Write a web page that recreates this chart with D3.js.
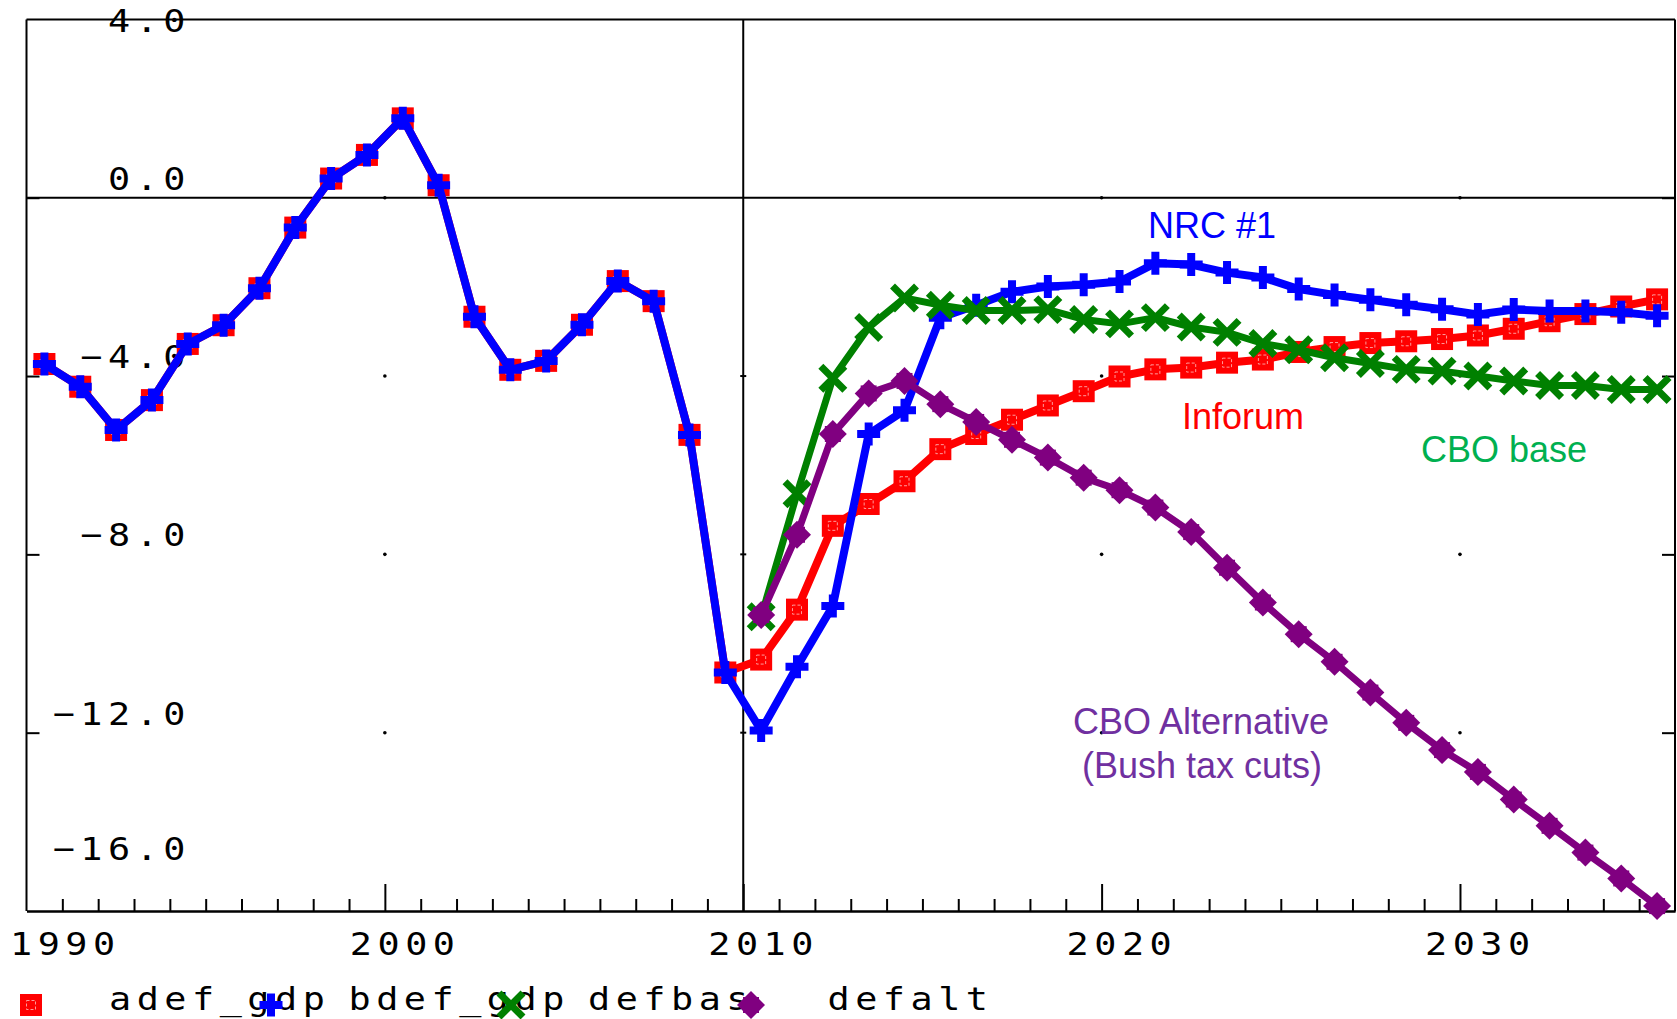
<!DOCTYPE html>
<html><head><meta charset="utf-8">
<script src="https://cdn.jsdelivr.net/npm/d3@7"></script>
<style>
html,body{margin:0;padding:0;background:#fff;}
svg{display:block;}
</style></head><body>
<svg id="chart" width="1677" height="1019"></svg>
<script>
// ---------------- data ----------------
const years = [1990,1991,1992,1993,1994,1995,1996,1997,1998,1999,
               2000,2001,2002,2003,2004,2005,2006,2007,2008,2009,
               2010,2011,2012,2013,2014,2015,2016,2017,2018,2019,
               2020,2021,2022,2023,2024,2025,2026,2027,2028,2029,
               2030,2031,2032,2033,2034,2035];
const projYears = [2010,2011,2012,2013,2014,2015,2016,2017,2018,2019,
                   2020,2021,2022,2023,2024,2025,2026,2027,2028,2029,
                   2030,2031,2032,2033,2034,2035];
// Inforum (red)
const adef_gdp = [-3.73,-4.24,-5.21,-4.54,-3.28,-2.86,-2.03,-0.67,0.43,0.96,
                  1.78,0.28,-2.67,-3.86,-3.66,-2.85,-1.87,-2.32,-5.32,-10.65,
                  -10.36,-9.24,-7.36,-6.87,-6.36,-5.64,-5.30,-4.98,-4.66,-4.34,
                  -4.01,-3.85,-3.81,-3.70,-3.63,-3.46,-3.35,-3.26,-3.22,-3.17,
                  -3.09,-2.94,-2.77,-2.61,-2.44,-2.28];
// NRC #1 (blue)
const bdef_gdp = [-3.73,-4.24,-5.21,-4.54,-3.28,-2.86,-2.03,-0.67,0.43,0.96,
                  1.78,0.28,-2.67,-3.86,-3.66,-2.85,-1.87,-2.32,-5.32,-10.65,
                  -11.95,-10.52,-9.16,-5.30,-4.77,-2.69,-2.41,-2.11,-1.99,-1.95,
                  -1.88,-1.47,-1.50,-1.68,-1.79,-2.05,-2.18,-2.29,-2.40,-2.50,
                  -2.62,-2.51,-2.54,-2.54,-2.57,-2.65];
// CBO base (green)
const defbas = [-9.40,-6.64,-4.05,-2.91,-2.25,-2.41,-2.53,-2.53,-2.51,-2.73,
                -2.83,-2.69,-2.90,-3.02,-3.27,-3.41,-3.59,-3.72,-3.85,-3.89,
                -4.00,-4.11,-4.21,-4.21,-4.30,-4.30];
// CBO alternative (purple)
const defalt = [-9.36,-7.56,-5.30,-4.39,-4.11,-4.63,-5.03,-5.43,-5.83,-6.28,
                -6.56,-6.95,-7.50,-8.30,-9.08,-9.79,-10.41,-11.10,-11.78,-12.39,
                -12.88,-13.50,-14.09,-14.69,-15.27,-15.89];

const yTicks = [4,0,-4,-8,-12,-16];
const yTickLabels = ["4.0","0.0","\u22124.0","\u22128.0","\u221212.0","\u221216.0"];
const xMajor = [1990,2000,2010,2020,2030];
const xTickLabels = ["1990","2000","2010","2020","2030"];
const legendNames = ["adef_gdp","bdef_gdp","defbas","defalt"];
const seriesColors = ["#ff0000","#0000ff","#008000","#800080"];
const annoNames = ["NRC #1","Inforum","CBO base","CBO Alternative","(Bush tax cuts)"];
const annoColors = ["#0000ff","#ff0000","#00b050","#7030a0","#7030a0"];

// ---------------- layout ----------------
const svg = d3.select("#chart");
const L = 26.5, R = 1675, T = 19.4, B = 911;
const x = d3.scaleLinear().domain([1990, 2036]).range([L, R]);
const y = d3.scaleLinear().domain([-16, 4]).range([B, T]);
const monoFont = "'DejaVu Sans Mono', monospace";
const sansFont = "'Liberation Sans', Arial, sans-serif";
const SX = 1.15;   // horizontal stretch of the mono labels

// frame
const frame = svg.append("g").attr("stroke", "#000").attr("stroke-width", 2).attr("fill", "none");
frame.append("line").attr("x1", L).attr("x2", R).attr("y1", y(4)).attr("y2", y(4));
frame.append("line").attr("x1", R).attr("x2", R).attr("y1", y(4)).attr("y2", y(-16));
frame.append("line").attr("x1", L).attr("x2", L).attr("y1", y(4)).attr("y2", y(-16));
frame.append("line").attr("x1", L).attr("x2", R).attr("y1", y(0)).attr("y2", y(0));
frame.append("line").attr("x1", x(2010)).attr("x2", x(2010)).attr("y1", y(4)).attr("y2", y(-16));

// bottom axis: minor + major ticks, inward
const minorYears = d3.range(1991, 2036).filter(v => v % 10 !== 0);
const axMinor = d3.axisBottom(x).tickValues(minorYears).tickSize(-12).tickSizeOuter(0).tickFormat("");
const axMajor = d3.axisBottom(x).tickValues([2000, 2010, 2020, 2030]).tickSize(-27).tickSizeOuter(0).tickFormat("");
const gMinor = svg.append("g").attr("transform", `translate(0,${B})`).call(axMinor);
const gMajor = svg.append("g").attr("transform", `translate(0,${B})`).call(axMajor);
[gMinor, gMajor].forEach(g => {
  g.selectAll("path").attr("stroke", "#000").attr("stroke-width", 2);
  g.selectAll("line").attr("stroke", "#000").attr("stroke-width", 2);
});

// left / right axis ticks (inward)
const innerTicks = [0, -4, -8, -12];
const axL = d3.axisRight(y).tickValues(innerTicks).tickSize(13).tickSizeOuter(0).tickFormat("");
const axR = d3.axisLeft(y).tickValues(innerTicks).tickSize(13).tickSizeOuter(0).tickFormat("");
const gL = svg.append("g").attr("transform", `translate(${L},0)`).call(axL);
const gR = svg.append("g").attr("transform", `translate(${R},0)`).call(axR);
[gL, gR].forEach(g => {
  g.select("path").remove();
  g.selectAll("line").attr("stroke", "#000").attr("stroke-width", 2);
});

// grid dots at decades
const dotYears = [2000, 2020, 2030];
dotYears.forEach(yr => innerTicks.forEach(v => {
  svg.append("circle").attr("cx", x(yr)).attr("cy", y(v)).attr("r", 1.8).attr("fill", "#000");
}));
innerTicks.filter(v => v !== 0).forEach(v => {
  svg.append("line").attr("x1", x(2010) - 3).attr("x2", x(2010) + 3)
    .attr("y1", y(v)).attr("y2", y(v)).attr("stroke", "#000").attr("stroke-width", 2);
});

// mono label helper (slightly stretched horizontally)
function monoText(g, str, px, py, anchor) {
  return g.append("text")
    .attr("transform", `translate(${px},${py}) scale(${SX},1)`)
    .attr("font-family", monoFont).attr("font-size", 32)
    .attr("letter-spacing", 4.8).attr("fill", "#000")
    .attr("text-anchor", anchor).text(str);
}

// y tick labels
const gy = svg.append("g");
yTicks.forEach((v, i) => {
  monoText(gy, yTickLabels[i], 191, Math.min(Math.max(y(v) - 8, 32), 860), "end");
});

// x tick labels
const gx = svg.append("g");
xMajor.forEach((v, i) => {
  monoText(gx, xTickLabels[i], Math.max(x(v) - 35, 10), 955, "start");
});

// ---------------- markers ----------------
function drawMarker(g, kind, cx, cy, color) {
  const m = g.append("g").attr("transform", `translate(${cx},${cy})`);
  if (kind === 0) {
    m.append("rect").attr("x", -11).attr("y", -11).attr("width", 22).attr("height", 22).attr("fill", color);
    m.append("rect").attr("x", -4.5).attr("y", -4.5).attr("width", 9).attr("height", 9)
      .attr("fill", "none").attr("stroke", "#ff9a9a").attr("stroke-width", 1).attr("stroke-dasharray", "3,2");
  } else if (kind === 1) {
    m.append("path").attr("d", "M-11.5,-4H-4V-11.5H4V-4H11.5V4H4V11.5H-4V4H-11.5Z").attr("fill", color);
  } else if (kind === 2) {
    m.append("path").attr("d", "M-12,-12L12,12M-12,12L12,-12")
      .attr("stroke", color).attr("stroke-width", 7).attr("fill", "none");
  } else {
    m.append("path").attr("d", "M0,-14L14,0L0,14L-14,0Z").attr("fill", color);
    m.append("rect").attr("x", -8).attr("y", -8).attr("width", 16).attr("height", 16).attr("fill", color);
  }
}

// ---------------- series ----------------
const seriesList = [
  {yrs: years, vals: adef_gdp, kind: 0, w: 8},
  {yrs: years, vals: bdef_gdp, kind: 1, w: 8},
  {yrs: projYears, vals: defbas, kind: 2, w: 7},
  {yrs: projYears, vals: defalt, kind: 3, w: 7}
];
const line = d3.line().x(d => x(d[0] + 0.5)).y(d => y(d[1]));
seriesList.forEach((s, i) => {
  const pts = s.yrs.map((yr, j) => [yr, s.vals[j]]);
  const g = svg.append("g");
  g.append("path").attr("d", line(pts)).attr("fill", "none")
    .attr("stroke", seriesColors[i]).attr("stroke-width", s.w).attr("stroke-linejoin", "round");
  pts.forEach(p => drawMarker(g, s.kind, x(p[0] + 0.5), y(p[1]), seriesColors[i]));
});

// ---------------- annotations ----------------
const annos = [
  {x: 1148, y: 238, anchor: "start"},
  {x: 1182, y: 429, anchor: "start"},
  {x: 1421, y: 462, anchor: "start"},
  {x: 1201, y: 734, anchor: "middle"},
  {x: 1202, y: 778, anchor: "middle"}
];
annos.forEach((a, i) => {
  svg.append("text").attr("x", a.x).attr("y", a.y).attr("text-anchor", a.anchor)
    .attr("font-family", sansFont).attr("font-size", 36).attr("fill", annoColors[i])
    .text(annoNames[i]);
});

// ---------------- legend ----------------
const lg = svg.append("g");
legendNames.forEach((name, i) => {
  monoText(lg, name, 109 + i * 239.5, 1010, "start");
});
legendNames.forEach((name, i) => {
  drawMarker(lg, i, 31 + i * 240, 1005, seriesColors[i]);
});
</script>
</body></html>
